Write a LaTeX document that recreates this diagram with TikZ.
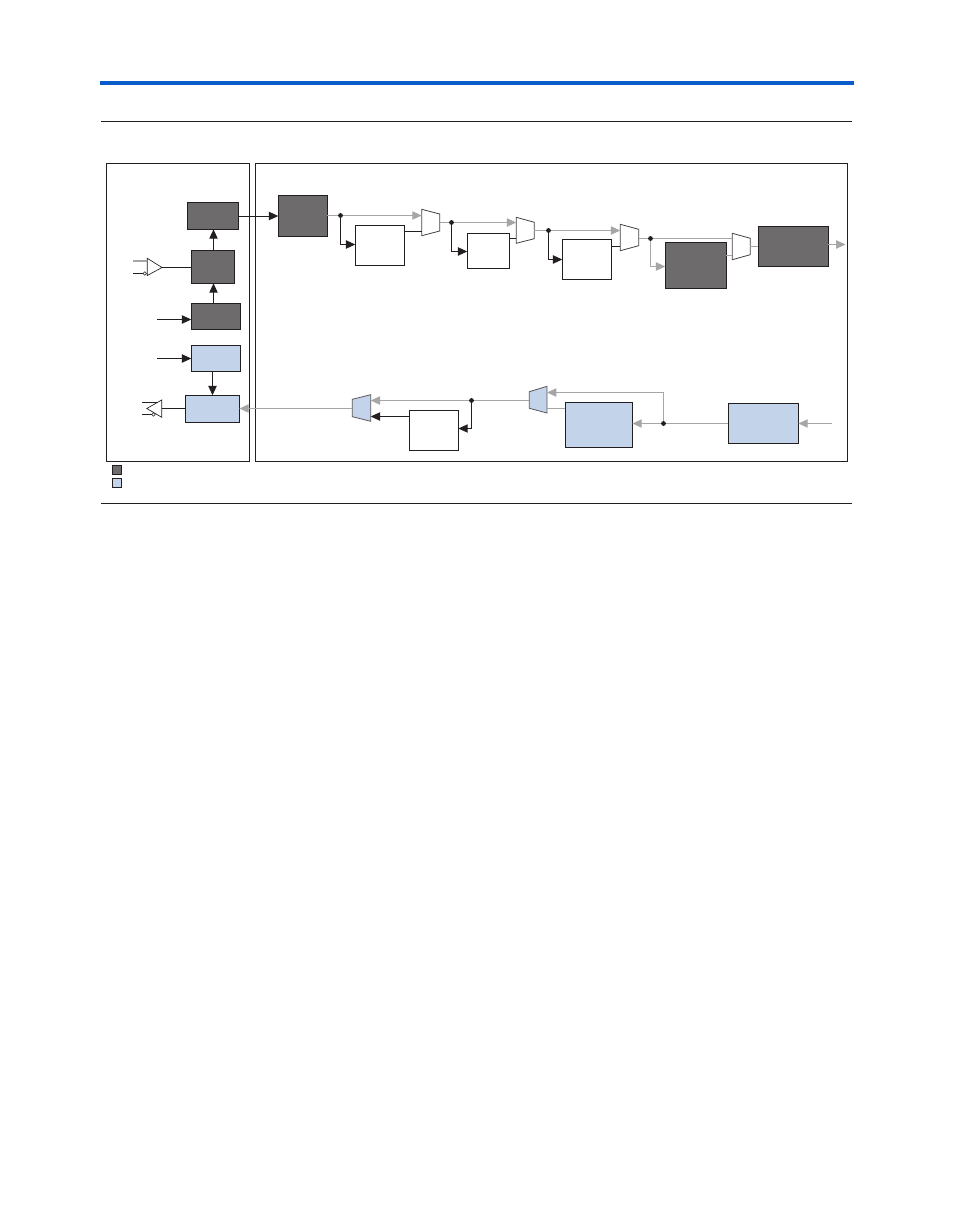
\documentclass[tikz,border=0pt]{standalone}
\usetikzlibrary{arrows.meta}
\definecolor{dk}{HTML}{6D6B6B}
\definecolor{lb}{HTML}{C3D3EA}
\definecolor{gy}{HTML}{A6A6A6}
\definecolor{ink}{HTML}{231F20}
\definecolor{bar}{HTML}{0A5CC8}
\tikzset{
  boxbase/.style={draw=ink,line width=.8pt,inner sep=0pt,outer sep=0pt},
  darkbox/.style={boxbase,fill=dk},
  bluebox/.style={boxbase,fill=lb},
  whitebox/.style={boxbase,fill=white},
  panel/.style={draw=ink,line width=.6pt,fill=white},
  rule/.style={draw=ink,line width=.6pt},
  bk/.style={draw=ink,line width=.75pt},
  gr/.style={draw=gy,line width=.75pt},
  bkarrow/.style={bk,-{Triangle[length=7pt,width=6.2pt]}},
  grarrow/.style={gr,-{Triangle[length=7pt,width=6.2pt,fill=gy]}},
  muxw/.style={draw=ink!85,line width=.6pt,fill=white},
  muxb/.style={draw=ink!75,line width=.6pt,fill=lb},
  junction/.style={circle,fill=ink,inner sep=0pt,minimum size=3.6pt},
  bubble/.style={circle,draw=ink,fill=white,line width=.4pt,inner sep=0pt,minimum size=2.6pt},
}
% \bx{name}{style}{x1}{y1}{x2}{y2}
\newcommand{\bx}[6]{%
  \pgfmathsetmacro{\bw}{(#5-#3)*0.75}%
  \pgfmathsetmacro{\bh}{(#6-#4)*0.75}%
  \node[#2,minimum width=\bw pt,minimum height=\bh pt] (#1) at ({(#3+#5)/2},{(#4+#6)/2}) {};}
% \mx{name}{style}{xL}{xR}{yLtop}{yLbot}{yRtop}{yRbot}
\newcommand{\mx}[8]{%
  \draw[#2] (#3,#5) -- (#4,#7) -- (#4,#8) -- (#3,#6) -- cycle;
  \coordinate (#1w) at (#3,{(#5+#6)/2});
  \coordinate (#1e) at (#4,{(#7+#8)/2});}
\begin{document}
\begin{tikzpicture}[x=0.75pt,y=-0.75pt]
\useasboundingbox (0,0) rectangle (954,1227);
\fill[white] (0,0) rectangle (954,1227);
\fill[bar] (100,81) rectangle (854,85);
\coordinate (r1a) at (101,121.5); \coordinate (r1b) at (852,121.5);
\coordinate (r2a) at (101,503.5); \coordinate (r2b) at (852,503.5);
\draw[rule] (r1a) -- (r1b);
\draw[rule] (r2a) -- (r2b);
\draw[panel] (106.4,163.3) rectangle (249.4,461.3);
\draw[panel] (255.4,163.3) rectangle (847.5,461.3);

% left blocks
\bx{A}{darkbox}{187.3}{202.3}{238.5}{229.3}
\bx{B}{darkbox}{191.3}{250.3}{234.7}{283.3}
\bx{C}{darkbox}{191.3}{303.3}{240.4}{329.3}
\bx{D}{bluebox}{191.3}{345.3}{240.4}{371.3}
\bx{E}{bluebox}{185.3}{395.3}{239.4}{422.3}
\bx{F}{darkbox}{278.3}{195.3}{327.4}{236.3}
% legend
\bx{L1}{darkbox}{112.4}{465.3}{121.6}{474.3}
\bx{L2}{bluebox}{112.4}{478.3}{121.6}{487.3}
% top path blocks
\bx{G}{whitebox}{355.3}{225.3}{404.4}{265.3}
\bx{H}{whitebox}{467.3}{233.3}{509.7}{268.3}
\bx{I}{whitebox}{562.3}{239.3}{611.4}{279.3}
\bx{J}{darkbox}{665.3}{242.3}{726.4}{288.3}
\bx{K}{darkbox}{758.3}{226.3}{828.4}{266.3}
% bottom path blocks
\bx{P}{bluebox}{728.3}{403.3}{798.4}{443.6}
\bx{M}{bluebox}{565.3}{402.3}{632.4}{447.3}
\bx{N}{whitebox}{409.3}{410.3}{458.4}{450.3}
% muxes
\mx{ma}{muxw}{421.7}{439.7}{209.3}{235.7}{214}{231}
\mx{mb}{muxw}{516.3}{534.3}{217.3}{243.3}{222.3}{238.7}
\mx{mc}{muxw}{620.3}{638.7}{224.3}{250.7}{229.3}{245.7}
\mx{md}{muxw}{732.3}{750.3}{233.3}{259.7}{238.3}{254.7}
\mx{me}{muxb}{529.3}{547}{391.7}{408.3}{386.3}{413}
\mx{mf}{muxb}{352.3}{370.7}{399.3}{416.7}{394.7}{421.3}
% junctions
\node[junction] (j1) at (340.5,215.5) {};
\node[junction] (j2) at (451.5,222.5) {};
\node[junction] (j3) at (548.5,230.5) {};
\node[junction] (j4) at (650.5,238.5) {};
\node[junction] (j5) at (663.5,423.5) {};
\node[junction] (j6) at (471.5,400.5) {};

% left connectors
\draw[bkarrow] (A.east |- 0,216) -- (F.west |- 0,216);
\draw[bkarrow] (B.north -| 213.5,0) -- (A.south -| 213.5,0);
\draw[bkarrow] (C.north -| 213.5,0) -- (B.south -| 213.5,0);
\draw[bkarrow] (D.south -| 212.5,0) -- (E.north -| 212.5,0);
\coordinate (cin) at (157,319.5); \coordinate (din) at (157,358.5);
\draw[bkarrow] (cin) -- (C.west |- cin);
\draw[bkarrow] (din) -- (D.west |- din);

% input buffer
\draw[draw=ink,line width=.5pt,fill=white] (147.3,258.3) -- (162,267.5) -- (147.3,275.5) -- cycle;
\coordinate (bufo) at (162,267.5);
\coordinate (bufp) at (133,261); \coordinate (bufpe) at (147.3,261);
\coordinate (bufn) at (133,273.5); \coordinate (bufne) at (143.4,273.5);
\draw[gy,line width=1.2pt] (bufp) -- (bufpe);
\draw[bk] (bufn) -- (bufne);
\node[bubble] (bub1) at (144.7,273.5) {};
\draw[bk] (bufo) -- (B.west |- bufo);

% output buffer
\draw[draw=ink,line width=.5pt,fill=white] (161.7,400) -- (146.8,408.5) -- (161.7,417.3) -- cycle;
\coordinate (obi) at (161.7,408.5);
\coordinate (obp) at (142,402.5); \coordinate (obpe) at (156.5,402.5);
\coordinate (obn) at (142,414.5); \coordinate (obne) at (152.2,414.5);
\draw[bk] (obp) -- (obpe);
\draw[bk] (obn) -- (obne);
\node[bubble] (bub2) at (153.5,414.5) {};
\draw[bk] (obi) -- (E.west |- obi);

% top path
\draw[gr] (F.east |- j1) -- (j1);
\draw[grarrow] (j1) -- (maw |- j1);
\draw[bkarrow] (j1) |- (G.west |- 0,244.5);
\draw[bk] (G.east |- 0,231.5) -- (maw |- 0,231.5);
\draw[gr] (mae |- j2) -- (j2);
\draw[grarrow] (j2) -- (mbw |- j2);
\draw[bkarrow] (j2) |- (H.west |- 0,251.5);
\draw[bk] (H.east |- 0,238.5) -- (mbw |- 0,238.5);
\draw[gr] (mbe |- j3) -- (j3);
\draw[grarrow] (j3) -- (mcw |- j3);
\draw[bkarrow] (j3) |- (I.west |- 0,259.5);
\draw[bk] (I.east |- 0,246.5) -- (mcw |- 0,246.5);
\draw[gr] (mce |- j4) -- (j4);
\draw[gr] (j4) -- (mdw |- j4);
\draw[grarrow] (j4) |- (J.west |- 0,266.5);
\draw[gr] (J.east |- 0,255.5) -- (mdw |- 0,255.5);
\draw[gr] (mde |- 0,246.5) -- (K.west |- 0,246.5);
\coordinate (kout) at (845.5,244.5);
\draw[grarrow] (K.east |- kout) -- (kout);

% bottom path
\coordinate (pin) at (832,423.5);
\draw[grarrow] (pin) -- (P.east |- pin);
\draw[gr] (P.west |- j5) -- (j5);
\draw[grarrow] (j5) -- (M.east |- j5);
\draw[grarrow] (j5) |- (mee |- 0,392.5);
\draw[gr] (M.west |- 0,408.5) -- (mee |- 0,408.5);
\draw[gr] (mew |- j6) -- (j6);
\draw[grarrow] (j6) -- (mfe |- j6);
\draw[bkarrow] (j6) |- (N.east |- 0,428.5);
\draw[bkarrow] (N.west |- 0,416.5) -- (mfe |- 0,416.5);
\draw[grarrow] (mfw |- 0,408.5) -- (E.east |- 0,408.5);
\end{tikzpicture}
\end{document}
